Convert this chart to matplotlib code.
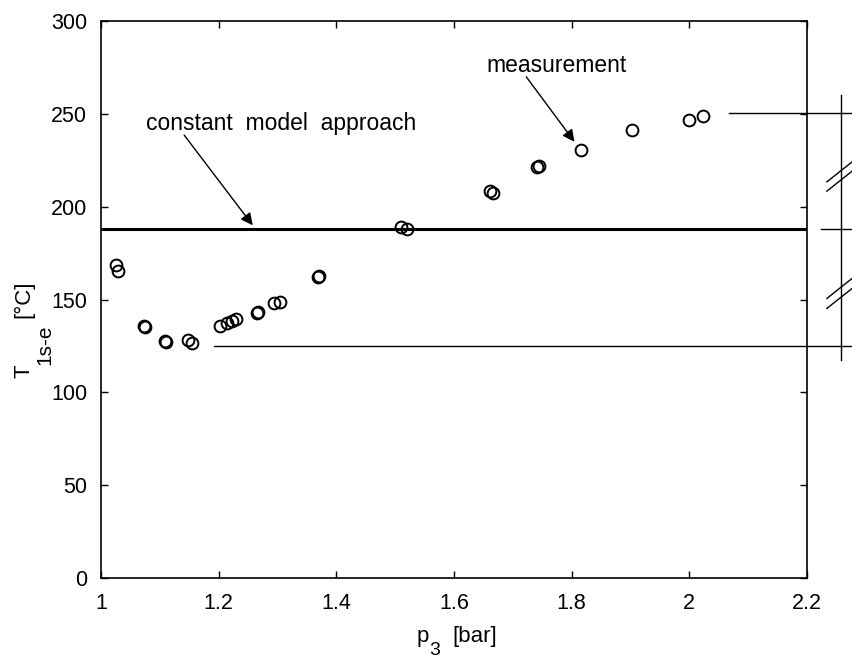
import matplotlib
matplotlib.use("Agg")
import matplotlib.pyplot as plt

plt.rcParams['font.family'] = ['Liberation Sans', 'DejaVu Sans']

p3 = [1.025, 1.029, 1.073, 1.075, 1.109, 1.111, 1.148, 1.155,
      1.202, 1.214, 1.222, 1.229, 1.266, 1.267, 1.295, 1.304,
      1.369, 1.371, 1.510, 1.520, 1.662, 1.667, 1.742, 1.744,
      1.816, 1.902, 1.999, 2.024]
T_meas = [168.6, 165.5, 135.5, 135.0, 127.5, 127.0, 128.2, 126.4,
          135.7, 137.5, 138.4, 139.3, 142.9, 143.2, 147.9, 148.8,
          162.0, 162.5, 189.0, 188.0, 208.6, 207.6, 221.5, 222.0,
          230.8, 241.4, 247.0, 248.8]

# constant model value
T_const = 188.0

# range markers right of the plot
ref_levels = [250.5, 188.0, 125.0]
ref_starts = [2.067, 2.2245, 1.1925]
ref_end = 2.30
bar_x = 2.2575
bar_span = [117.4, 260.0]
# break marks (pairs of slashes)
slash_x = [2.234, 2.30]
slashes = [[213.4, 230.0], [208.4, 225.0], [150.6, 167.2], [145.2, 161.8]]

xticks = [1, 1.2, 1.4, 1.6, 1.8, 2, 2.2]
xticklabels = ['1', '1.2', '1.4', '1.6', '1.8', '2', '2.2']
yticks = [0, 50, 100, 150, 200, 250, 300]

W, H = 852, 661
fig = plt.figure(figsize=(W / 100, H / 100), dpi=100)
ax = fig.add_axes([0.1185, 0.1256, 0.8285, 0.8424])

ax.plot(p3, T_meas, 'o', mfc='none', mec='black', ms=8.5, mew=1.4)
ax.plot([1.0, 2.2], [T_const, T_const], color='black', lw=2.2)

for lev, x0 in zip(ref_levels, ref_starts):
    ax.plot([x0, ref_end], [lev, lev], color='black', lw=1.0, clip_on=False)
ax.plot([bar_x, bar_x], bar_span, color='black', lw=1.0, clip_on=False)
for s in slashes:
    ax.plot(slash_x, s, color='black', lw=1.0, clip_on=False)

ax.set_xlim(1, 2.2)
ax.set_ylim(0, 300)
ax.set_xticks(xticks)
ax.set_xticklabels(xticklabels)
ax.set_yticks(yticks)
ax.tick_params(direction='in', length=5, width=1, top=True, right=True,
               labelsize=15.5)
ax.tick_params(axis='y', pad=10)
ax.tick_params(axis='x', pad=11)
for sp in ax.spines.values():
    sp.set_linewidth(1.2)


# axis labels built from pieces so the subscripts keep a large size
def px(x, y):
    return x / W, 1 - y / H


fig.text(*px(416.5, 642), 'p', fontsize=16, ha='left', va='baseline')
fig.text(*px(429, 655), '3', fontsize=14, ha='left', va='baseline')
fig.text(*px(452.5, 642), '[bar]', fontsize=16, ha='left', va='baseline')

fig.text(*px(30, 378), 'T', fontsize=16, rotation=90, rotation_mode='anchor',
         ha='left', va='baseline')
fig.text(*px(50, 365), '1s-e', fontsize=15, rotation=90,
         rotation_mode='anchor', ha='left', va='baseline')
fig.text(*px(29, 318), '[°C]', fontsize=16, rotation=90,
         rotation_mode='anchor', ha='left', va='baseline')

ax.text(1.775, 276, 'measurement', fontsize=16.5, ha='center', va='center')
ax.annotate('', xy=(1.805, 235), xytext=(1.723, 270),
            arrowprops=dict(arrowstyle='-|>', color='black', lw=1.0,
                            mutation_scale=18, shrinkA=0, shrinkB=0))
ax.text(1.307, 245, 'constant  model  approach', fontsize=16.5,
        ha='center', va='center')
ax.annotate('', xy=(1.258, 190), xytext=(1.1415, 238.6),
            arrowprops=dict(arrowstyle='-|>', color='black', lw=1.0,
                            mutation_scale=18, shrinkA=0, shrinkB=0))

fig.savefig('out.png', dpi=100)
